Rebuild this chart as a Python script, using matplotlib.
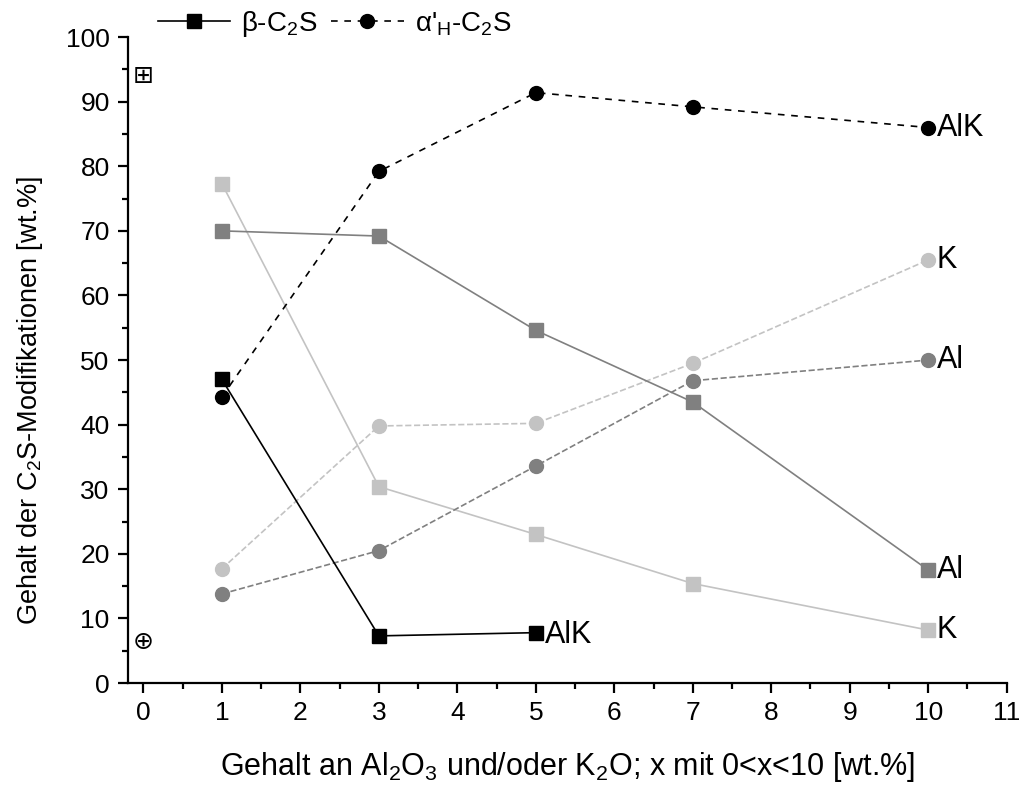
import matplotlib
matplotlib.use('Agg')
import matplotlib.pyplot as plt
from matplotlib.ticker import MultipleLocator

plt.rcParams['font.family'] = ['Liberation Sans', 'DejaVu Sans']
plt.rcParams['mathtext.fontset'] = 'custom'
plt.rcParams['mathtext.rm'] = 'Liberation Sans'
plt.rcParams['mathtext.it'] = 'Liberation Sans:italic'

# Daten (Gehalt an Al2O3 und/oder K2O)
x_alk_beta = [1, 3, 5]
alk_beta = [47.0, 7.3, 7.8]
x_all = [1, 3, 5, 7, 10]
alk_alpha = [44.3, 79.2, 91.4, 89.2, 86.0]
al_beta = [70.0, 69.2, 54.6, 43.5, 17.5]
al_alpha = [13.8, 20.5, 33.6, 46.8, 50.0]
k_beta = [77.3, 30.4, 23.0, 15.4, 8.2]
k_alpha = [17.7, 39.8, 40.2, 49.5, 65.5]

# Referenzwerte bei x = 0
ref_x = [0, 0]
ref_y = [94.0, 6.3]
ref_sym = ['\u229e', '\u2295']

c_dark = '#808080'
c_light = '#c3c3c3'

fig = plt.figure(figsize=(10.22, 7.89), dpi=100)
ax = fig.add_axes([0.125, 0.1343, 0.86, 0.8187])

# K (hellgrau)
ax.plot(x_all, k_beta, '-', color=c_light, lw=1.2, marker='s', ms=10)
ax.plot(x_all, k_alpha, '--', color=c_light, lw=1.2, marker='o', ms=10)
# Al (dunkelgrau)
ax.plot(x_all, al_beta, '-', color=c_dark, lw=1.2, marker='s', ms=10)
ax.plot(x_all, al_alpha, '--', color=c_dark, lw=1.2, marker='o', ms=10)
# AlK (schwarz)
l1, = ax.plot(x_alk_beta, alk_beta, '-', color='black', lw=1.2, marker='s', ms=10)
l2, = ax.plot(x_all, alk_alpha, '--', color='black', lw=1.2, marker='o', ms=10,
              dashes=(4, 4))

for xx, yy, s in zip(ref_x, ref_y, ref_sym):
    ax.text(xx, yy, s, family='DejaVu Sans', fontsize=18, ha='center', va='center')

lab_kw = dict(fontsize=22, va='center', ha='left')
ax.text(10.11, alk_alpha[-1], 'AlK', **lab_kw)
ax.text(10.11, k_alpha[-1], 'K', **lab_kw)
ax.text(10.11, al_alpha[-1], 'Al', **lab_kw)
ax.text(10.11, al_beta[-1], 'Al', **lab_kw)
ax.text(10.11, k_beta[-1], 'K', **lab_kw)
ax.text(5.11, alk_beta[-1] - 0.4, 'AlK', **lab_kw)

ax.set_xlim(-0.2, 11)
ax.set_ylim(0, 100)
ax.xaxis.set_major_locator(MultipleLocator(1))
ax.xaxis.set_minor_locator(MultipleLocator(0.5))
ax.yaxis.set_major_locator(MultipleLocator(10))
ax.yaxis.set_minor_locator(MultipleLocator(5))
ax.tick_params(which='major', length=7, width=1.6, labelsize=19, pad=6)
ax.tick_params(which='minor', length=4, width=1.6)
ax.spines['top'].set_visible(False)
ax.spines['right'].set_visible(False)
ax.spines['left'].set_linewidth(1.6)
ax.spines['bottom'].set_linewidth(1.6)

ax.set_xlabel('Gehalt an Al$_2$O$_3$ und/oder K$_2$O; x mit 0<x<10 [wt.%]', fontsize=22, labelpad=18)
ax.set_ylabel('Gehalt der C$_2$S-Modifikationen [wt.%]', fontsize=19.5)
ax.yaxis.set_label_coords(-0.094, 0.437)

fig.legend([l1, l2], ['\u03b2-C$_2$S', "\u03b1'$_\\mathregular{H}$-C$_2$S"], loc='upper left',
           bbox_to_anchor=(0.13, 1.02), ncol=2, frameon=False, fontsize=20,
           handlelength=2.6, handletextpad=0.4, columnspacing=0.5)

fig.savefig('out.png', dpi=100)
